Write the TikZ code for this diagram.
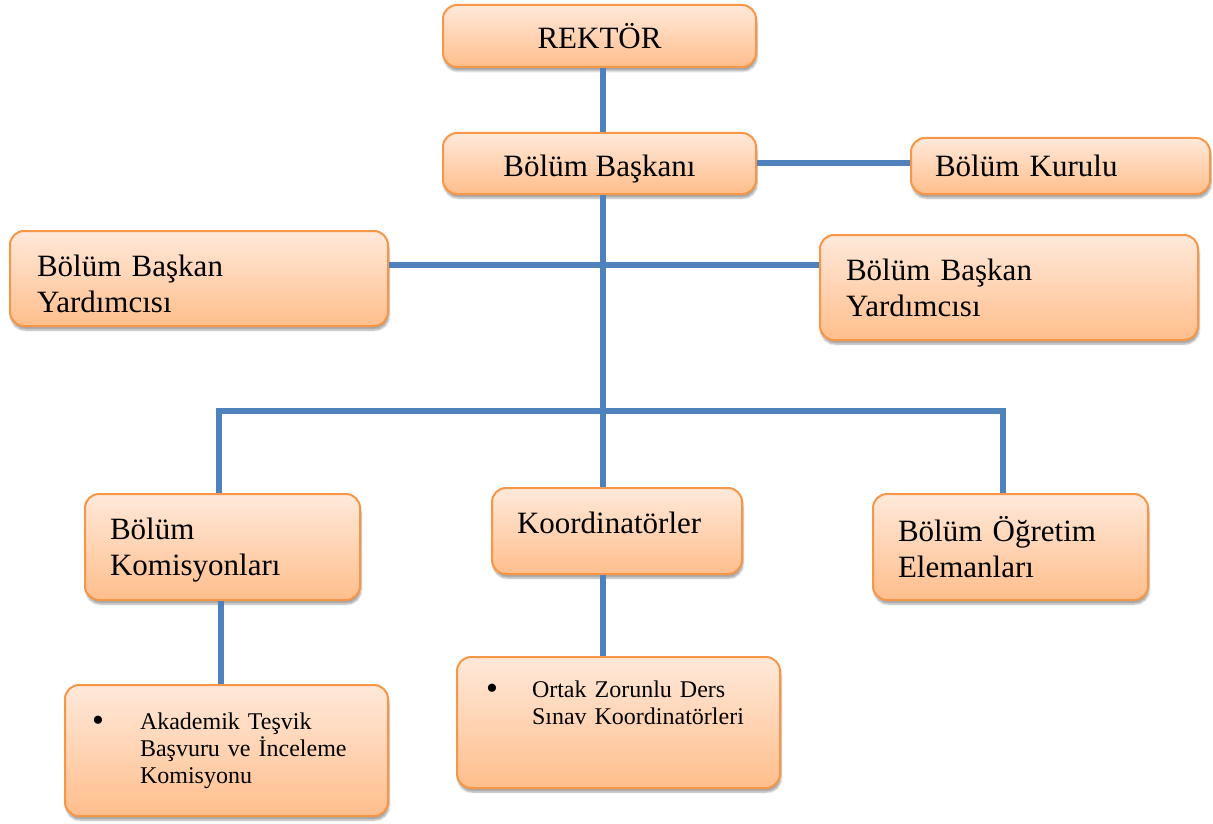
\documentclass[tikz,border=0pt]{standalone}
\usepackage{fontspec}
\setmainfont{Liberation Serif}
\usetikzlibrary{shadows.blur}
\definecolor{BoxTop}{RGB}{255, 233, 218}
\definecolor{BoxBottom}{RGB}{255, 190, 140}
\definecolor{BoxLine}{RGB}{247, 150, 70}
\definecolor{LinkBlue}{RGB}{79, 129, 189}
\newcommand{\bigbox}{\fontsize{31}{36}\selectfont}
\newcommand{\smallbox}{\fontsize{24}{27}\selectfont}
\newcommand{\dotmark}{\raisebox{-2.5pt}{\fontsize{34}{27}\selectfont\textbullet}}
\tikzset{
  unit/.style={rounded corners=14pt, draw=BoxLine, line width=2pt,
    top color=BoxTop, bottom color=BoxBottom,
    blur shadow={shadow xshift=1pt, shadow yshift=-4pt, shadow opacity=35, shadow blur steps=6},
    font=\bigbox, inner sep=0pt},
  leftunit/.style={unit, align=left, inner xsep=25pt},
  bulletunit/.style={unit, align=left, font=\smallbox, inner xsep=31pt},
  link/.style={draw=LinkBlue, line width=6pt}
}
\begin{document}
\begin{tikzpicture}[x=1pt,y=-1pt]
\useasboundingbox (0,0) rectangle (1213,824);
% top of the chart
\node[unit, minimum width=313, minimum height=62] (rektor) at (599.5,36) {REKTÖR};
\node[unit, minimum width=313, minimum height=61, text height=27pt, text depth=2pt] (baskan) at (599.5,163.5) {Bölüm Başkanı};
\node[leftunit, inner xsep=24pt, text width=251pt, minimum height=56] (kurul) at (1060.5,166) {Bölüm Kurulu};
% assistants
\node[leftunit, inner xsep=27pt, text width=324pt, minimum height=95, text height=32pt, text depth=37pt] (yardl) at (199,278.5) {Bölüm Başkan\\Yardımcısı};
\node[leftunit, inner xsep=26pt, text width=326pt, minimum height=105] (yardr) at (1009,287.5) {Bölüm Başkan\\Yardımcısı};
% third row
\node[leftunit, text width=225pt, minimum height=106, text height=24pt, text depth=39pt] (komis) at (222.5,547) {Bölüm\\Komisyonları};
\node[leftunit, text width=200pt, minimum height=86, text height=15pt, text depth=11pt] (koord) at (617,531) {Koordinatörler};
\node[leftunit, text width=225pt, minimum height=106] (ogret) at (1010.5,547) {Bölüm Öğretim\\Elemanları};
% bottom row
\node[bulletunit, inner xsep=27pt, text width=269pt, minimum height=131] (akad) at (226.5,750.5)
  {\makebox[48pt][l]{\dotmark}Akademik Teşvik\\\hspace*{48pt}Başvuru ve İnceleme\\\hspace*{48pt}Komisyonu};
\node[bulletunit, inner xsep=29pt, text width=265pt, minimum height=131, text height=10pt, text depth=61pt] (ortak) at (618.5,722.5)
  {\makebox[46pt][l]{\dotmark}Ortak Zorunlu Ders\\\hspace*{46pt}Sınav Koordinatörleri};
% connectors
\coordinate (trunk) at (603,265);
\coordinate (bar) at (603,411);
\draw[link] ([xshift=3.5pt]rektor.south) -- ([xshift=3.5pt]baskan.north);
\draw[link] (baskan.east) -- (baskan.east -| kurul.west);
\draw[link] (yardl.east |- trunk) -- (yardr.west |- trunk);
\draw[link] (trunk |- baskan.south) -- (trunk |- koord.north);
\draw[link] ([xshift=-4pt]komis.north) |- (bar) -| ([xshift=-8pt]ogret.north);
\draw[link] ([xshift=-2pt]komis.south) -- ([xshift=-2pt]komis.south |- akad.north);
\draw[link] (trunk |- koord.south) -- (trunk |- ortak.north);
\end{tikzpicture}
\end{document}
